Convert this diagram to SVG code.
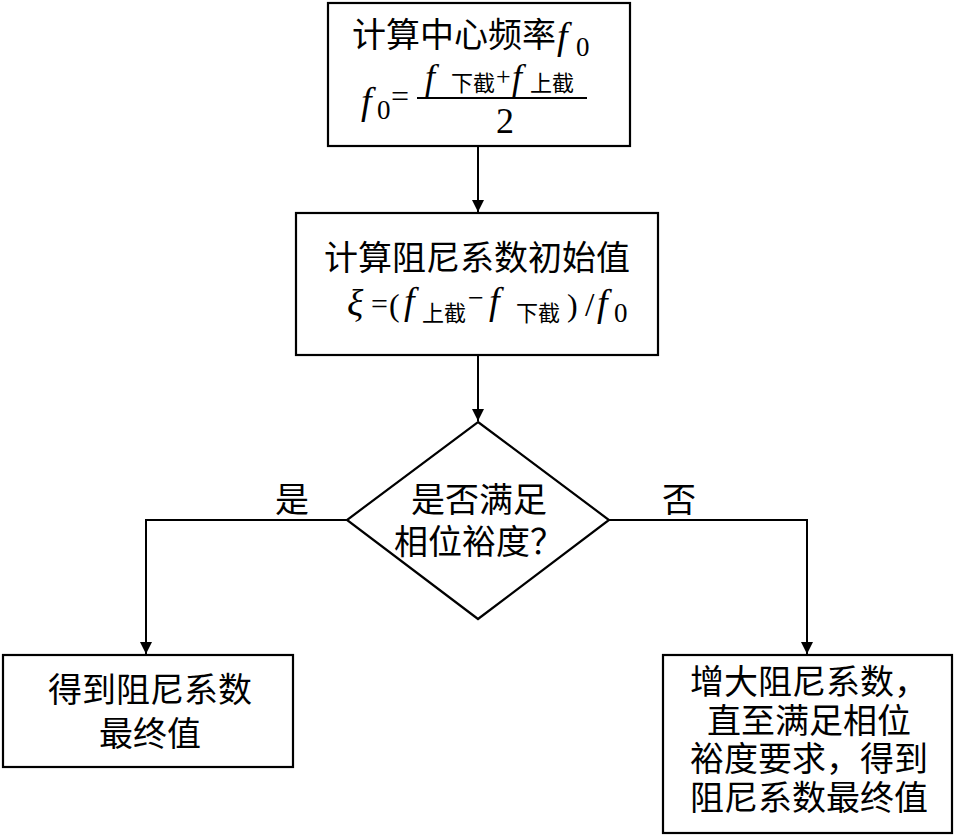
<svg xmlns="http://www.w3.org/2000/svg" width="959" height="836" viewBox="0 0 959 836">
<style>
.box{fill:#fff;stroke:#000;stroke-width:2.2}
.cn{font-family:"Liberation Serif","Noto Sans CJK SC",serif;font-size:34px;fill:#000}
.m{font-family:"Liberation Serif","Noto Sans CJK SC",serif;fill:#000}
.i{font-style:italic}
.s{font-size:22px}
.c{text-anchor:middle}
.ln{fill:none;stroke:#000;stroke-width:2}
</style>
<defs>
<marker id="ah" markerWidth="12" markerHeight="14" refX="12" refY="7" orient="auto" markerUnits="userSpaceOnUse">
<path d="M0,1 L12,7 L0,13 z" fill="#000"/>
</marker>
</defs>
<rect width="959" height="836" fill="#fff"/>
<g id="connectors">
<line class="ln" x1="478" y1="146" x2="478" y2="212" marker-end="url(#ah)"/>
<line class="ln" x1="478" y1="355" x2="478" y2="421" marker-end="url(#ah)"/>
<polyline class="ln" points="347,520 146,520 146,654" marker-end="url(#ah)"/>
<polyline class="ln" points="609,520 807,520 807,654" marker-end="url(#ah)"/>
<text class="cn c" x="292" y="512">是</text>
<text class="cn c" x="679" y="512">否</text>
</g>
<g id="n1">
<rect class="box" x="328" y="3" width="302" height="143"/>
<text class="cn" x="352" y="47">计算中心频率<tspan class="i" x="557" y="49" font-size="38">f</tspan><tspan x="576" y="56" font-size="27">0</tspan></text>
<text class="m" y="114"><tspan class="i" x="361" font-size="38">f</tspan><tspan x="377" y="119" font-size="27">0</tspan><tspan x="391" y="107" font-size="32">=</tspan></text>
<line x1="417" y1="98" x2="587" y2="98" stroke="#000" stroke-width="2"/>
<text class="m" y="89"><tspan class="i" x="425" font-size="36">f</tspan><tspan class="s" x="451" y="91">下截</tspan><tspan x="496" y="85" font-size="26">+</tspan><tspan class="i" x="512" y="89" font-size="36">f</tspan><tspan class="s" x="530" y="91">上截</tspan></text>
<text class="m c" x="505" y="133" font-size="36">2</text>
</g>
<g id="n2">
<rect class="box" x="296" y="213" width="362" height="142"/>
<text class="cn c" x="477" y="270">计算阻尼系数初始值</text>
<text class="m" y="316"><tspan class="i" x="347" font-size="38">ξ</tspan><tspan x="371" y="314" font-size="30">=</tspan><tspan x="389" y="316" font-size="32">(</tspan><tspan class="i" x="404" y="314" font-size="38">f</tspan><tspan class="s" x="422" y="321">上截</tspan><tspan x="468" y="307" font-size="28">−</tspan><tspan class="i" x="489" y="314" font-size="38">f</tspan><tspan class="s" x="516" y="321">下截</tspan><tspan x="567" y="316" font-size="32">)</tspan><tspan x="585" y="316" font-size="34">/</tspan><tspan class="i" x="597" y="316" font-size="38">f</tspan><tspan x="614" y="322" font-size="27">0</tspan></text>
</g>
<g id="n3">
<polygon class="box" points="478,422 609,520 478,619 347,520"/>
<text class="cn c" x="479" y="512">是否满足</text>
<text class="cn c" x="479" y="554">相位裕度？</text>
</g>
<g id="n4">
<rect class="box" x="3" y="655" width="290" height="112"/>
<text class="cn c" x="150" y="702">得到阻尼系数</text>
<text class="cn c" x="150" y="746">最终值</text>
</g>
<g id="n5">
<rect class="box" x="663" y="655" width="289" height="178"/>
<text class="cn c" x="809" y="694">增大阻尼系数，</text>
<text class="cn c" x="809" y="733">直至满足相位</text>
<text class="cn c" x="809" y="771">裕度要求，得到</text>
<text class="cn c" x="809" y="810">阻尼系数最终值</text>
</g>
</svg>
